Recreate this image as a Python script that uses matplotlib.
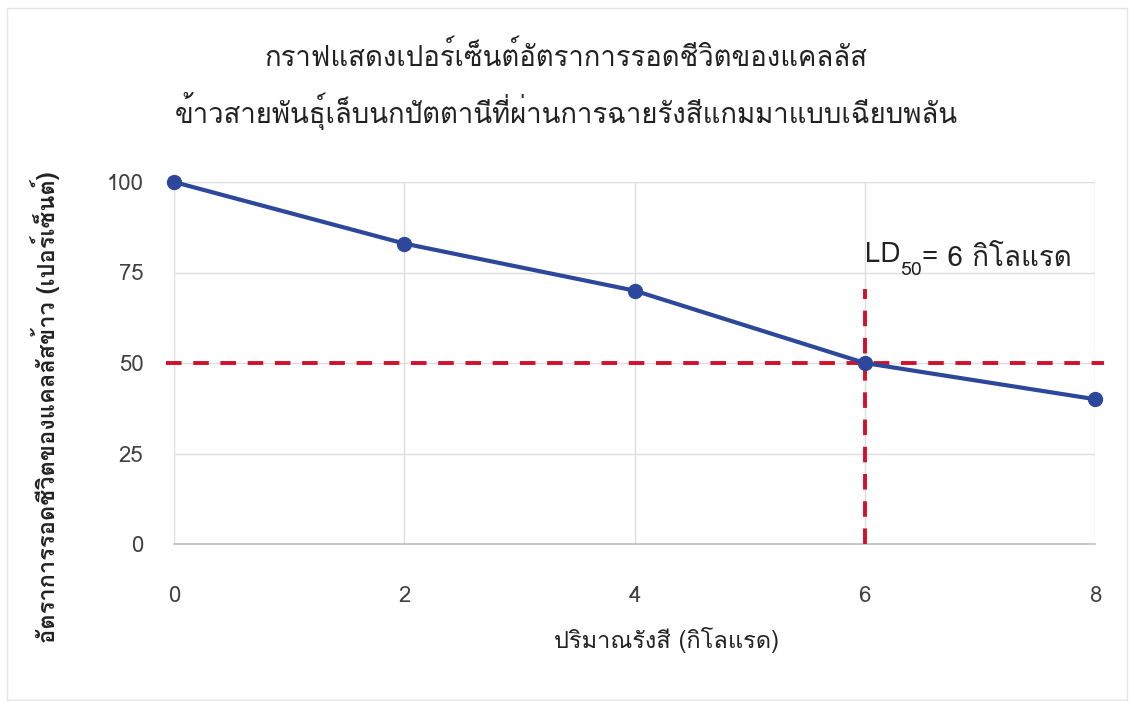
import matplotlib
matplotlib.use("Agg")
import matplotlib.pyplot as plt
from matplotlib import font_manager
from matplotlib.ft2font import FT2Font
from matplotlib.patches import Rectangle

# data
dose = [0, 2, 4, 6, 8]
survival = [100, 83, 70, 50, 40]
ld50_dose = 6
ld50_level = 50
ld50_line_top = 70.5
x_ticks = [0, 2, 4, 6, 8]
y_ticks = [0, 25, 50, 75, 100]

title = "กราฟแสดงเปอร์เซ็นต์อัตราการรอดชีวิตของแคลลัส\nข้าวสายพันธุ์เล็บนกปัตตานีที่ผ่านการฉายรังสีแกมมาแบบเฉียบพลัน"
x_label = "ปริมาณรังสี (กิโลแรด)"
y_label = "อัตราการรอดชีวิตของแคลลัสข้าว (เปอร์เซ็นต์)"
ld50_text = "= 6 กิโลแรด"


def find_thai_font():
    # look for any installed font with Thai glyphs
    for f in font_manager.fontManager.ttflist:
        try:
            cmap = FT2Font(f.fname).get_charmap()
        except Exception:
            continue
        if 0x0E01 in cmap and 0x0E40 in cmap:
            return f.name
    return "DejaVu Sans"


thai = find_thai_font()
plt.rcParams['font.family'] = [thai, 'DejaVu Sans']

fig = plt.figure(figsize=(11.29, 7.01), dpi=100)
fig.patches.append(Rectangle((7 / 1129, 0.002), 1120 / 1129, 1 - 8 / 701 - 0.002,
                             transform=fig.transFigure, fill=False,
                             edgecolor="#e3e3e3", linewidth=1.0))

ax = fig.add_axes([174 / 1129, 1 - 544 / 701, (1095 - 174) / 1129, (544 - 182) / 701])

line_color = "#2D489A"
red = "#D2102C"
text_color = "#404040"

ax.plot(dose, survival, color=line_color, linewidth=3, marker='o',
        markersize=10, zorder=4, clip_on=False)

ax.plot([-0.07, 8.08], [ld50_level, ld50_level], color=red, linewidth=2.8,
        dashes=(4, 3), zorder=3, clip_on=False)
ax.plot([ld50_dose, ld50_dose], [0, ld50_line_top], color=red, linewidth=2.8,
        dashes=(4, 3), zorder=3, clip_on=False)

ax.set_xlim(0, 8)
ax.set_ylim(0, 100)
ax.set_xticks(x_ticks)
ax.set_yticks(y_ticks)
ax.grid(True, color="#dedede", linewidth=1)
ax.set_axisbelow(True)
for s in ['top', 'right', 'left']:
    ax.spines[s].set_visible(False)
ax.spines['bottom'].set_color("#bfbfbf")
ax.spines['bottom'].set_linewidth(1.2)
ax.tick_params(axis='both', length=0, labelsize=16, labelcolor=text_color)
ax.tick_params(axis='x', pad=30)
ax.tick_params(axis='y', pad=22)

# LD50 label built from pieces so the subscript sits right after "LD"
t_ld = ax.text(ld50_dose, 77.8, "LD", fontsize=20, color="#222222",
               ha='left', va='baseline')
t_sub = ax.annotate("50", xy=(1, 0), xycoords=t_ld, xytext=(0, -5),
                    textcoords='offset points', fontsize=14, color="#222222",
                    ha='left', va='baseline')
ax.annotate(ld50_text, xy=(1, 0), xycoords=t_sub, xytext=(0, 5),
            textcoords='offset points', fontsize=20, color="#222222",
            ha='left', va='bottom')

fig.text(566 / 1129, 1 - 86 / 701, title, ha='center', va='center',
         fontsize=19.8, color="#222222", linespacing=1.65)
fig.text(666 / 1129, 1 - 640 / 701, x_label, ha='center', va='center',
         fontsize=17, color="#222222")
fig.text(45 / 1129, 1 - 407 / 701, y_label, ha='center', va='center',
         rotation=90, fontsize=17, color="#222222", fontweight='bold')

fig.savefig("out.png", dpi=100)
